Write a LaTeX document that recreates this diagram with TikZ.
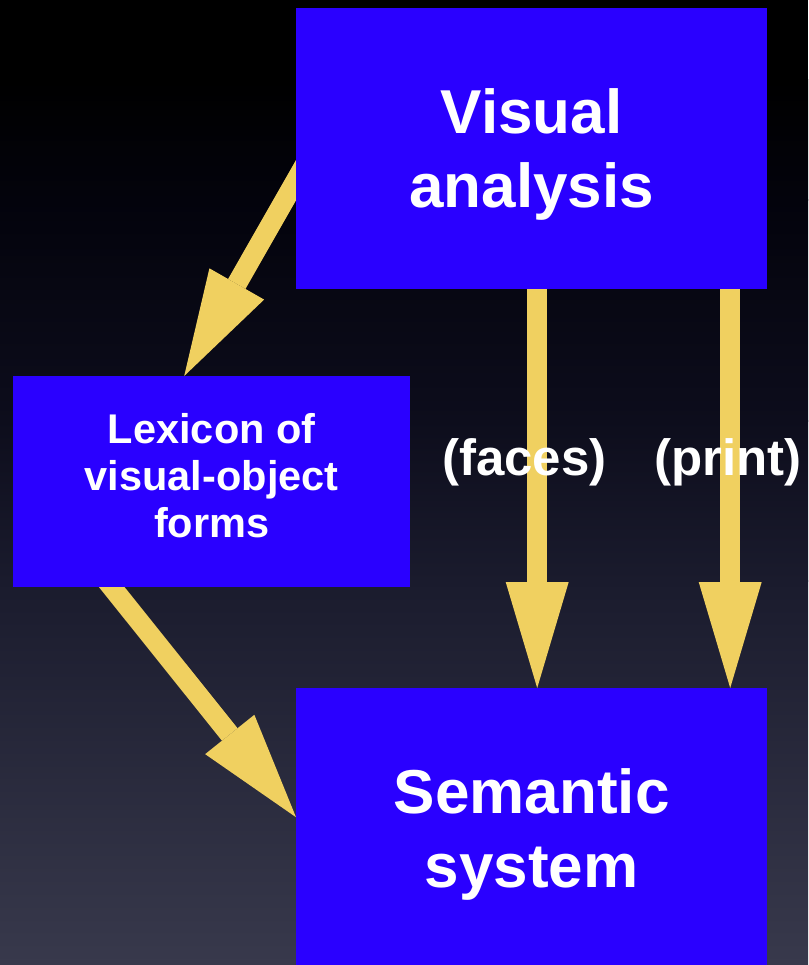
\documentclass[tikz,border=0pt]{standalone}
\usepackage{fontspec}
\setmainfont{Liberation Sans}
\usetikzlibrary{arrows.meta,calc}
\pgfdeclarelayer{backdrop}
\pgfdeclarelayer{links}
\pgfsetlayers{backdrop,links,main}
\definecolor{boxblue}{RGB}{42,0,255}
\definecolor{arrowgold}{RGB}{240,208,96}
\definecolor{bgA}{RGB}{3,3,12}
\definecolor{bgB}{RGB}{13,13,28}
\definecolor{bgC}{RGB}{26,27,45}
\definecolor{bgD}{RGB}{56,57,76}
\begin{document}
\begin{tikzpicture}[x=1pt,y=-1pt,
  box/.style={fill=boxblue, draw=none, inner sep=0pt, anchor=north west},
  bigtext/.style={text=white, align=center, inner sep=0pt,
    font=\fontsize{62}{74}\selectfont\bfseries},
  midtext/.style={text=white, align=center, inner sep=0pt,
    font=\fontsize{41.5}{47}\selectfont\bfseries},
  routetext/.style={text=white, inner sep=0pt, anchor=base,
    font=\fontsize{51}{60}\selectfont\bfseries},
  arrowline/.style={draw=arrowgold, line width=20pt,
    -{Triangle[length=106pt, width=63pt, line width=0pt]}}]
\useasboundingbox (0,0) rectangle (808,965);

% backdrop: black at the top, fading to slate blue at the bottom
\begin{pgfonlayer}{backdrop}
  \fill[black] (0,0) rectangle (808,81);
  \shade[top color=black, bottom color=bgA] (0,80) rectangle (808,201);
  \shade[top color=bgA, bottom color=bgB] (0,200) rectangle (808,421);
  \shade[top color=bgB, bottom color=bgC] (0,420) rectangle (808,581);
  \shade[top color=bgC, bottom color=bgD] (0,580) rectangle (808,965);
\end{pgfonlayer}

% boxes
\node[box, minimum width=471pt, minimum height=281pt] (va) at (296,8) {};
\node[box, minimum width=397pt, minimum height=211pt] (lex) at (13,376) {};
\node[box, minimum width=471pt, minimum height=277pt] (sem) at (296,688) {};

% box captions
\node[bigtext] (vatext) at ([yshift=-5.8pt]va.center) {Visual\\analysis};
\node[midtext] (lextext) at ([yshift=6.5pt]lex.center) {Lexicon of\\visual-object\\forms};
\node[bigtext] (semtext) at ([yshift=-7.5pt]sem.center) {Semantic\\system};

% route labels
\node[routetext] (faces) at (524.5,475) {(faces)};
\node[routetext] (print) at (728,475) {(print)};

% connectors, tucked behind the boxes
\begin{pgfonlayer}{links}
  \draw[arrowline] ([xshift=16pt,yshift=-3.5pt]va.west) -- ([xshift=-27.5pt]lex.north);
  \draw[arrowline] ([xshift=5.5pt,yshift=20pt]va.south) -- ([xshift=5.5pt]sem.north);
  \draw[arrowline] ([xshift=198.5pt,yshift=20pt]va.south) -- ([xshift=198.5pt]sem.north);
  \draw[arrowline] ([xshift=-112.5pt,yshift=16pt]lex.south) -- ([yshift=9.5pt]sem.west);
\end{pgfonlayer}
\end{tikzpicture}
\end{document}
